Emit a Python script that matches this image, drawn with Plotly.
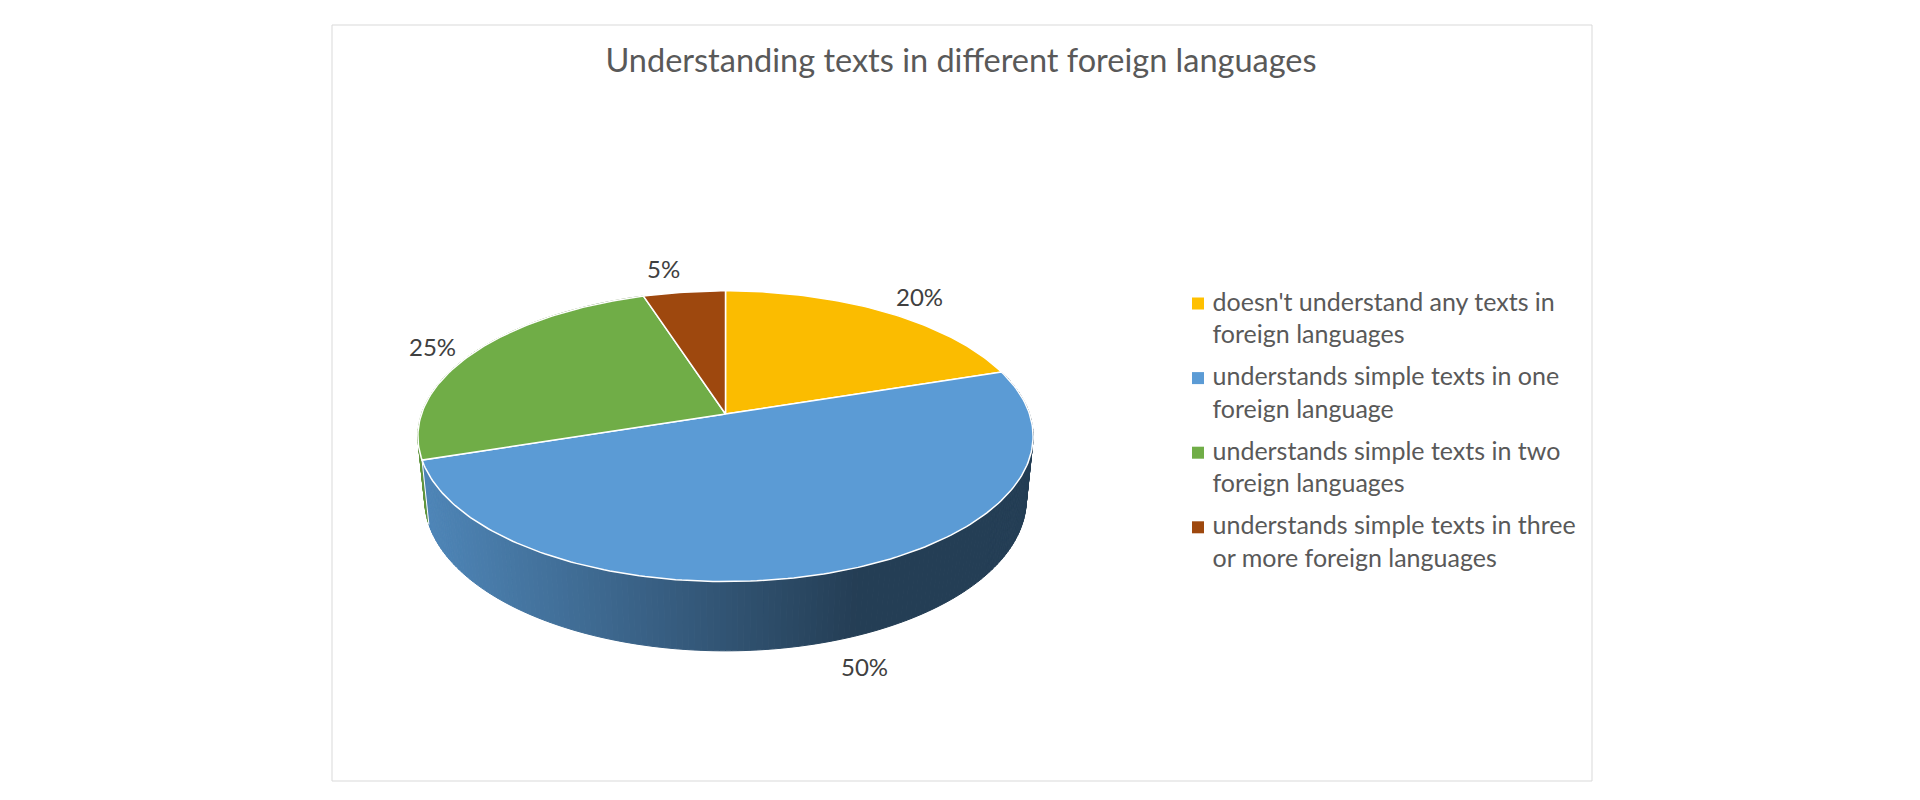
import math
import plotly.graph_objects as go

title = "Understanding texts in different foreign languages"
categories = [
    "doesn't understand any texts in<br>foreign languages",
    "understands simple texts in one<br>foreign language",
    "understands simple texts in two<br>foreign languages",
    "understands simple texts in three<br>or more foreign languages",
]
values = [20, 50, 25, 5]
colors = ["#FBBC00", "#5B9BD5", "#70AD47", "#9E480E"]
legend_colors = ["#FFC000", "#5B9BD5", "#70AD47", "#9E480E"]
label_offsets = [(35, -15.5), (32, 26), (-40, -7), (-21, -23.5)]

# perspective model of the disc: apex, radius scale, tilt
X0, Y0, A, B, P = 725.5, 414.0, 304.0, 142.0, 0.1527
Q, C = 0.022, 73.0   # depth of the drum in the projection
FONT = "Lato"
SWATCH_X, SWATCH_Y, SWATCH_PITCH = 1198, 303.5, 74.6


def rim(t, h=0.0, r=1.0):
    u, v = r * math.sin(t), r * math.cos(t)
    w = 1 + P * v
    d = w + Q * h
    return X0 + A * u / d, (Y0 * w - B * v + C * h) / d


def shade(base, x):
    f = 0.86 + (0.40 - 0.86) * (min(max(x, 427), 855) - 427) / (855 - 427)
    rgb = [int(base[i:i + 2], 16) for i in (1, 3, 5)]
    return "rgb(%d,%d,%d)" % tuple(round(c * f) for c in rgb)


total = sum(values)
edges = [0.0]
for v in values:
    edges.append(edges[-1] + v / total * 2 * math.pi)

fig = go.Figure()

# drum sides
order = [2, 1]
for i in order:
    a, b = edges[i], edges[i + 1]
    n = max(2, int((b - a) / math.radians(1)))
    for k in range(n):
        t0 = a + (b - a) * k / n
        t1 = a + (b - a) * (k + 1) / n
        pts = [rim(t0), rim(t1), rim(t1, 1), rim(t0, 1)]
        xm = sum(p[0] for p in pts) / 4
        col = shade(colors[i], xm)
        fig.add_trace(go.Scatter(
            x=[p[0] for p in pts] + [pts[0][0]],
            y=[p[1] for p in pts] + [pts[0][1]],
            mode="lines", fill="toself", fillcolor=col,
            line=dict(color=col, width=1), showlegend=False, hoverinfo="skip"))

# seam between the green and blue side walls
p0, p1 = rim(edges[2]), rim(edges[2], 1)
fig.add_trace(go.Scatter(x=[p0[0], p1[0]], y=[p0[1], p1[1]], mode="lines",
                         line=dict(color="white", width=1), showlegend=False, hoverinfo="skip"))

# top face
for i, name in enumerate(categories):
    a, b = edges[i], edges[i + 1]
    n = max(8, int((b - a) / math.radians(1)))
    pts = [rim(a + (b - a) * k / n) for k in range(n + 1)]
    xs = [X0] + [p[0] for p in pts] + [X0]
    ys = [Y0] + [p[1] for p in pts] + [Y0]
    fig.add_trace(go.Scatter(x=xs, y=ys, mode="lines", fill="toself", fillcolor=colors[i],
                             line=dict(color="white", width=1.5), showlegend=False,
                             hovertemplate=f"{values[i]}%<extra></extra>"))

# legend entries; the square sits on the first text line, so it is drawn beside the legend text
for i, name in enumerate(categories):
    fig.add_trace(go.Scatter(x=[None], y=[None], mode="markers", name=name,
                             legendgroup=str(i),
                             marker=dict(symbol="square", size=1, color="rgba(0,0,0,0)")))
    fig.add_trace(go.Scatter(x=[SWATCH_X], y=[SWATCH_Y + i * SWATCH_PITCH], mode="markers",
                             showlegend=False, hoverinfo="skip",
                             marker=dict(symbol="square", size=12, color=legend_colors[i],
                                         line=dict(width=0))))

# data labels
for i, v in enumerate(values):
    mid = (edges[i] + edges[i + 1]) / 2
    px, py = rim(mid, 1 if i == 1 else 0)
    dx, dy = label_offsets[i]
    fig.add_annotation(x=px, y=py, xref="x", yref="y", text=f"{v}%", showarrow=False,
                       xshift=dx, yshift=-dy, font=dict(family=FONT, size=24, color="#404040"))

fig.update_layout(
    width=1920, height=800, margin=dict(l=0, r=0, t=0, b=0),
    paper_bgcolor="white", plot_bgcolor="white",
    xaxis=dict(range=[0, 1920], visible=False, fixedrange=True),
    yaxis=dict(range=[800, 0], visible=False, fixedrange=True),
    title=dict(text=title, x=961 / 1920, xanchor="center", y=1 - 61 / 800, yanchor="middle",
               font=dict(family=FONT, size=32.5, color="#595959")),
    legend=dict(x=1172.5 / 1920, y=1 - 278.3 / 800, xanchor="left", yanchor="top",
                font=dict(family=FONT, size=25, color="#595959"),
                tracegroupgap=6.5, bgcolor="rgba(0,0,0,0)", itemclick=False, itemdoubleclick=False),
    shapes=[dict(type="rect", xref="x", yref="y", x0=332, x1=1592, y0=25, y1=781,
                 line=dict(color="#D9D9D9", width=1), layer="below")],
)
fig.write_html("out.html", post_script="document.body.style.margin='0';",
               config={"displayModeBar": False})
